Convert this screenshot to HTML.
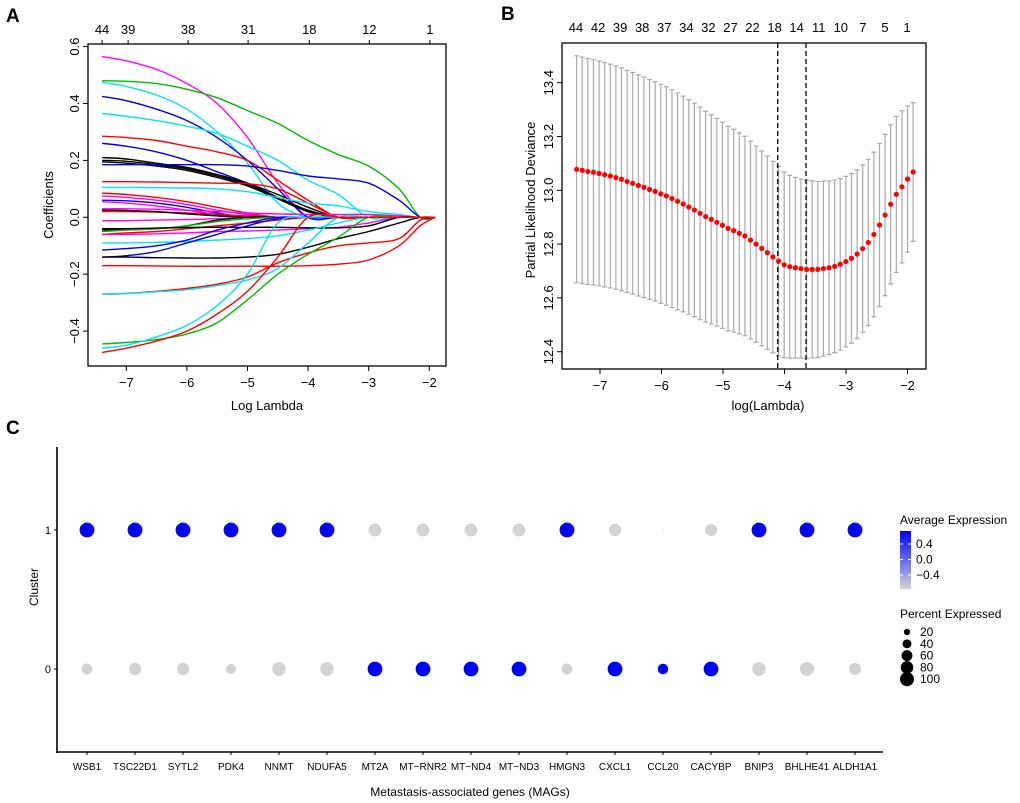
<!DOCTYPE html>
<html><head><meta charset="utf-8">
<style>
body{margin:0;background:#fff;}
svg{display:block;font-family:"Liberation Sans",Arial,sans-serif;}
</style></head>
<body>
<svg id="fig" width="1020" height="803" viewBox="0 0 1020 803" xmlns="http://www.w3.org/2000/svg">
<rect width="1020" height="803" fill="#fff"/>
<text x="6" y="22" font-size="19" font-weight="bold">A</text>
<text x="501" y="20" font-size="19" font-weight="bold">B</text>
<text x="6" y="434" font-size="19" font-weight="bold">C</text>
<g id="pa"></g>
<g id="pb"></g>
<g id="pc"></g>
</svg>
<script>
// ---------- Panel A data ----------
const aGrid = [-7.4,-7,-6.5,-6,-5.5,-5,-4.5,-4,-3.5,-3,-2.5,-2.15,-1.9];
const aColors = ["#ff00ff","#00bb00","#00e5ee","#0000ee","#00e5ee","#ff0000","#0000ee","#000000","#000000","#000000","#0000ee","#ff0000","#00e5ee","#ff0000","#ff00ff","#0000ee","#ff00ff","#ff00ff","#ff0000","#000000","#ff00ff","#000000","#00bb00","#ff0000","#ff00ff","#000000","#00e5ee","#0000ee","#0000ee","#000000","#ff0000","#ff0000","#00e5ee","#00bb00","#00e5ee","#ff0000"];
const aPaths = [
 [0.565,0.55,0.52,0.47,0.40,0.28,0.12,0,0,0,0,0,0],
 [0.48,0.478,0.47,0.45,0.42,0.375,0.33,0.27,0.22,0.18,0.1,0,0],
 [0.475,0.46,0.43,0.38,0.30,0.19,0.05,0,0,0,0,0,0],
 [0.425,0.41,0.38,0.34,0.28,0.20,0.10,0,0,0,0,0,0],
 [0.365,0.355,0.34,0.32,0.295,0.25,0.20,0.13,0.08,0,0,0,0],
 [0.285,0.28,0.27,0.25,0.23,0.20,0.13,0.06,0,0,0,0,0],
 [0.26,0.25,0.23,0.2,0.16,0.12,0.07,0.02,0,0,0,0,0],
 [0.21,0.205,0.19,0.175,0.15,0.12,0.08,0.035,0,0,0,0,0],
 [0.20,0.197,0.185,0.17,0.145,0.115,0.07,0.025,0,0,0,0,0],
 [0.195,0.19,0.18,0.165,0.14,0.11,0.065,0.02,0,0,0,0,0],
 [0.185,0.185,0.185,0.185,0.185,0.18,0.165,0.145,0.135,0.12,0.06,0,0],
 [0.125,0.125,0.124,0.122,0.12,0.118,0.10,0.05,0,0,0,0,0],
 [0.105,0.105,0.104,0.103,0.1,0.09,0.07,0.05,0.04,0.02,0.01,0,0],
 [0.085,0.08,0.07,0.055,0.035,0.015,0,0,0,0,0,0,0],
 [0.075,0.07,0.06,0.045,0.025,0.01,0,0,0,0,0,0,0],
 [0.06,0.058,0.05,0.035,0.015,0,0,0,0,0,0,0,0],
 [0.03,0.03,0.028,0.025,0.02,0.015,0.012,0.01,0.01,0.01,0.005,0,0],
 [0.055,0.05,0.04,0.025,0.01,0,0,0,0,0,0,0,0],
 [0.02,0.02,0.018,0.015,0.01,0.005,0,0,0,0,0,0,0],
 [0.025,0.024,0.02,0.012,0.005,0,0,0,0,0,0,0,0],
 [-0.012,-0.012,-0.01,-0.008,-0.005,0,0,0,0,0,0,0,0],
 [-0.045,-0.044,-0.04,-0.03,-0.01,0,0,0,0,0,0,0,0],
 [-0.05,-0.045,-0.04,-0.03,-0.015,-0.005,0,0,0,0,0,0,0],
 [-0.06,-0.055,-0.05,-0.04,-0.03,-0.02,-0.01,0,0,0,0,0,0],
 [-0.06,-0.06,-0.058,-0.055,-0.05,-0.048,-0.045,-0.04,-0.035,-0.02,0,0,0],
 [-0.04,-0.04,-0.038,-0.036,-0.035,-0.035,-0.035,-0.037,-0.037,-0.03,0,0,0],
 [-0.09,-0.09,-0.088,-0.085,-0.08,-0.075,-0.065,-0.045,-0.02,0,0,0,0],
 [-0.115,-0.11,-0.1,-0.08,-0.045,-0.02,0,0,0,0,0,0,0],
 [-0.14,-0.135,-0.12,-0.09,-0.06,-0.03,-0.005,0,0,0,0,0,0],
 [-0.14,-0.14,-0.142,-0.143,-0.143,-0.14,-0.13,-0.105,-0.075,-0.05,-0.02,0,0],
 [-0.17,-0.17,-0.171,-0.172,-0.172,-0.172,-0.172,-0.17,-0.165,-0.15,-0.10,-0.03,0],
 [-0.27,-0.268,-0.26,-0.25,-0.235,-0.21,-0.16,-0.125,-0.10,-0.09,-0.075,-0.01,0],
 [-0.27,-0.268,-0.262,-0.255,-0.24,-0.22,-0.18,-0.09,0,0,0,0,0],
 [-0.445,-0.44,-0.43,-0.41,-0.37,-0.29,-0.2,-0.13,-0.07,0,0,0,0],
 [-0.46,-0.45,-0.42,-0.38,-0.31,-0.2,-0.02,0,0,0,0,0,0],
 [-0.475,-0.46,-0.435,-0.40,-0.34,-0.26,-0.14,0,0,0,0,0,0]
];
const aXTicks = [-7,-6,-5,-4,-3,-2];
const aYTicks = [-0.4,-0.2,0.0,0.2,0.4,0.6];
const aTopLabels = ["44","39","38","31","18","12","1"];
const aTopAt = [-7.4,-6.97,-5.98,-4.99,-3.98,-2.99,-1.99];

// ---------- Panel B data ----------
const bMean = [13.078,13.074,13.070,13.067,13.063,13.058,13.053,13.047,13.041,13.033,13.026,13.018,13.011,13.003,12.996,12.987,12.979,12.969,12.959,12.949,12.938,12.927,12.914,12.902,12.892,12.881,12.870,12.858,12.850,12.840,12.830,12.815,12.800,12.784,12.768,12.752,12.737,12.723,12.716,12.712,12.709,12.706,12.706,12.706,12.709,12.712,12.717,12.725,12.735,12.747,12.763,12.783,12.806,12.836,12.871,12.908,12.948,12.985,13.013,13.042,13.068];
const bHalf = [0.422,0.421,0.42,0.419,0.418,0.417,0.416,0.415,0.414,0.413,0.412,0.411,0.41,0.409,0.408,0.407,0.406,0.405,0.403,0.401,0.399,0.397,0.395,0.392,0.389,0.386,0.383,0.38,0.377,0.374,0.371,0.368,0.365,0.362,0.359,0.356,0.352,0.345,0.34,0.336,0.333,0.331,0.329,0.327,0.325,0.323,0.321,0.319,0.317,0.315,0.313,0.311,0.309,0.306,0.303,0.3,0.296,0.29,0.283,0.272,0.258];
const bStart = -7.38, bStep = 0.0912;
const bXTicks = [-7,-6,-5,-4,-3,-2];
const bYTicks = [12.4,12.6,12.8,13.0,13.2,13.4];
const bTopLabels = ["44","42","39","38","37","34","32","27","22","18","14","11","10","7","5","1"];
const bVLines = [-4.11,-3.65];

// ---------- Panel C data ----------
const genes = ["WSB1","TSC22D1","SYTL2","PDK4","NNMT","NDUFA5","MT2A","MT-RNR2","MT-ND4","MT-ND3","HMGN3","CXCL1","CCL20","CACYBP","BNIP3","BHLHE41","ALDH1A1"];
const pct1 = [100,100,100,100,100,100,75,75,75,75,100,70,1,65,100,100,100];
const pct0 = [55,70,70,45,85,85,100,100,100,100,55,100,50,100,85,90,65];
const exp1 = [0.7,0.7,0.7,0.7,0.7,0.7,-0.7,-0.7,-0.7,-0.7,0.7,-0.7,-0.7,-0.7,0.7,0.7,0.7];
const exp0 = [-0.7,-0.7,-0.7,-0.7,-0.7,-0.7,0.7,0.7,0.7,0.7,-0.7,0.7,0.7,0.7,-0.7,-0.7,-0.7];
const legendPct = [20,40,60,80,100];
const legendExp = ["0.4","0.0","\u22120.4"];

const NS="http://www.w3.org/2000/svg";
function mk(parent,tag,attrs,txt){const e=document.createElementNS(NS,tag);for(const k in attrs)e.setAttribute(k,attrs[k]);if(txt!==undefined)e.textContent=txt;parent.appendChild(e);return e;}
const minus=s=>String(s).replace('-','\u2212');
function smooth(pts){
 let d='M'+pts[0][0].toFixed(1)+','+pts[0][1].toFixed(1);
 for(let i=0;i<pts.length-1;i++){
  const p0=pts[Math.max(0,i-1)],p1=pts[i],p2=pts[i+1],p3=pts[Math.min(pts.length-1,i+2)];
  const c1=[p1[0]+(p2[0]-p0[0])/6,p1[1]+(p2[1]-p0[1])/6];
  const c2=[p2[0]-(p3[0]-p1[0])/6,p2[1]-(p3[1]-p1[1])/6];
  d+=`C${c1[0].toFixed(1)},${c1[1].toFixed(1)} ${c2[0].toFixed(1)},${c2[1].toFixed(1)} ${p2[0].toFixed(1)},${p2[1].toFixed(1)}`;
 }
 return d;
}

// ===== Panel A =====
(function(){
 const g=document.getElementById('pa');
 const L=88,R=446,T=44,B=366;
 const xs=v=>126.3+(v+7)*60.6;
 const ys=v=>217.3-v*284.5;
 aPaths.forEach((p,i)=>{
  const d=smooth(p.map((v,j)=>[xs(aGrid[j]),ys(v)]));
  const el=mk(g,'path',{d:d,fill:'none',stroke:aColors[i%aColors.length],'stroke-width':1.4});
  
  
 });
 const box=mk(g,'rect',{x:L,y:T,width:R-L,height:B-T,fill:'none',stroke:'#000','stroke-width':1.3});
 
 aXTicks.forEach(t=>{const x=xs(t);mk(g,'line',{x1:x,x2:x,y1:B,y2:B+5,stroke:'#000'});
  const tx=mk(g,'text',{x:x,y:B+21,'font-size':13,'text-anchor':'middle'},minus(t));
  });
 aYTicks.forEach(t=>{const y=ys(t);mk(g,'line',{x1:L,x2:L-5,y1:y,y2:y,stroke:'#000'});
  const tx=mk(g,'text',{x:0,y:0,'font-size':13,'text-anchor':'middle',transform:`translate(79,${y}) rotate(-90)`},minus(t.toFixed(1)));
  });
 aTopLabels.forEach((s,i)=>{const x=xs(aTopAt[i]);mk(g,'line',{x1:x,x2:x,y1:T,y2:T-4,stroke:'#000'});
  const tx=mk(g,'text',{x:x,y:T-10,'font-size':13,'text-anchor':'middle'},s);
  });
 const xt=mk(g,'text',{x:267,y:410,'font-size':13,'text-anchor':'middle'},'Log Lambda');
 
 const yt=mk(g,'text',{x:0,y:0,'font-size':13,'text-anchor':'middle',transform:'translate(53,205) rotate(-90)'},'Coefficients');
 
})();

// ===== Panel B =====
(function(){
 const g=document.getElementById('pb');
 const L=562,R=926,T=43,B=369;
 const xs=v=>600+(v+7)*61.5;
 const ys=v=>82.7+(13.4-v)*269;
 bMean.forEach((m,i)=>{
  const x=xs(bStart+i*bStep),yu=ys(m+bHalf[i]),yl=ys(m-bHalf[i]);
  const eb=mk(g,'path',{d:`M${x},${yu}L${x},${yl}M${x-2.5},${yu}L${x+2.5},${yu}M${x-2.5},${yl}L${x+2.5},${yl}`,stroke:'#aaaaaa','stroke-width':1.2,fill:'none'});
  
 });
 bVLines.forEach(v=>{const x=xs(v);const l=mk(g,'line',{x1:x,x2:x,y1:T,y2:B,stroke:'#000','stroke-width':1.3,'stroke-dasharray':'5,3'});
  });
 bMean.forEach((m,i)=>{
  const c=mk(g,'circle',{cx:xs(bStart+i*bStep),cy:ys(m),r:2.6,fill:'#ff0000'});
  
 });
 const box=mk(g,'rect',{x:L,y:T,width:R-L,height:B-T,fill:'none',stroke:'#000','stroke-width':1.3});
 
 bXTicks.forEach(t=>{const x=xs(t);mk(g,'line',{x1:x,x2:x,y1:B,y2:B+5,stroke:'#000'});
  const tx=mk(g,'text',{x:x,y:B+21,'font-size':13,'text-anchor':'middle'},minus(t));
  });
 bYTicks.forEach(t=>{const y=ys(t);mk(g,'line',{x1:L,x2:L-5,y1:y,y2:y,stroke:'#000'});
  const tx=mk(g,'text',{x:0,y:0,'font-size':13,'text-anchor':'middle',transform:`translate(553,${y}) rotate(-90)`},t.toFixed(1));
  });
 bTopLabels.forEach((s,i)=>{const x=576+i*(331/15);
  const tx=mk(g,'text',{x:x,y:32,'font-size':13,'text-anchor':'middle'},s);
  });
 const xt=mk(g,'text',{x:768,y:410,'font-size':13,'text-anchor':'middle'},'log(Lambda)');
 
 const yt=mk(g,'text',{x:0,y:0,'font-size':13,'text-anchor':'middle',transform:'translate(535,200) rotate(-90)'},'Partial Likelihood Deviance');
 
})();

// ===== Panel C =====
(function(){
 const g=document.getElementById('pc');
 const xs=i=>87+i*48;
 const yOf={1:530,0:669};
 const rOf=p=>Math.sqrt(p/100)*7.4;
 const col=v=>{const t=Math.max(0,Math.min(1,(v+0.7)/1.4));
  const r=Math.round(211*(1-t)),gg=Math.round(211*(1-t)),b=Math.round(211+(255-211)*t);return `rgb(${r},${gg},${b})`;};
 mk(g,'line',{x1:57,x2:57,y1:447,y2:753,stroke:'#000','stroke-width':1.6});
 mk(g,'line',{x1:56,x2:883,y1:752,y2:752,stroke:'#000','stroke-width':1.6});
 [[1,'1'],[0,'0']].forEach(([k,s])=>{mk(g,'line',{x1:54,x2:57,y1:yOf[k],y2:yOf[k],stroke:'#000'});
  const tx=mk(g,'text',{x:51,y:yOf[k]+4,'font-size':11,'text-anchor':'end'},s);
  });
 genes.forEach((gn,i)=>{
  const x=xs(i);
  mk(g,'line',{x1:x,x2:x,y1:752,y2:755,stroke:'#000'});
  const tx=mk(g,'text',{x:x,y:770,'font-size':10,'text-anchor':'middle'},gn.replace(/-/g,'\u2212'));
  
  const c1=mk(g,'circle',{cx:x,cy:yOf[1],r:rOf(pct1[i]),fill:col(exp1[i])});
  
  
  const c0=mk(g,'circle',{cx:x,cy:yOf[0],r:rOf(pct0[i]),fill:col(exp0[i])});
  
  
 });
 const yt=mk(g,'text',{x:0,y:0,'font-size':12,'text-anchor':'middle',transform:'translate(38,587) rotate(-90)'},'Cluster');
 
 const xt=mk(g,'text',{x:470,y:796,'font-size':12,'text-anchor':'middle'},'Metastasis-associated genes (MAGs)');
 
 // legend
 const defs=mk(g,'defs',{});
 const lg=mk(defs,'linearGradient',{id:'grad',x1:0,y1:1,x2:0,y2:0});
 mk(lg,'stop',{offset:0,'stop-color':'#d3d3d3'});mk(lg,'stop',{offset:1,'stop-color':'#0000ff'});
 const lt=mk(g,'text',{x:900,y:524,'font-size':12},'Average Expression');
 
 const bar=mk(g,'rect',{x:900,y:531,width:11,height:58,fill:'url(#grad)'});
 
 legendExp.forEach((s,i)=>{const y=544+i*15.5;
  mk(g,'line',{x1:900,x2:903,y1:y,y2:y,stroke:'#fff'});mk(g,'line',{x1:908,x2:911,y1:y,y2:y,stroke:'#fff'});
  const tx=mk(g,'text',{x:916,y:y+4,'font-size':12},s);
  });
 const pt=mk(g,'text',{x:900,y:618,'font-size':12},'Percent Expressed');
 
 legendPct.forEach((p,i)=>{const y=632+i*11.8;
  const c=mk(g,'circle',{cx:907,cy:y,r:rOf(p)*0.95,fill:'#000'});
  
  const tx=mk(g,'text',{x:920,y:y+4,'font-size':12},String(p));
  });
})();
</script>
</body></html>
